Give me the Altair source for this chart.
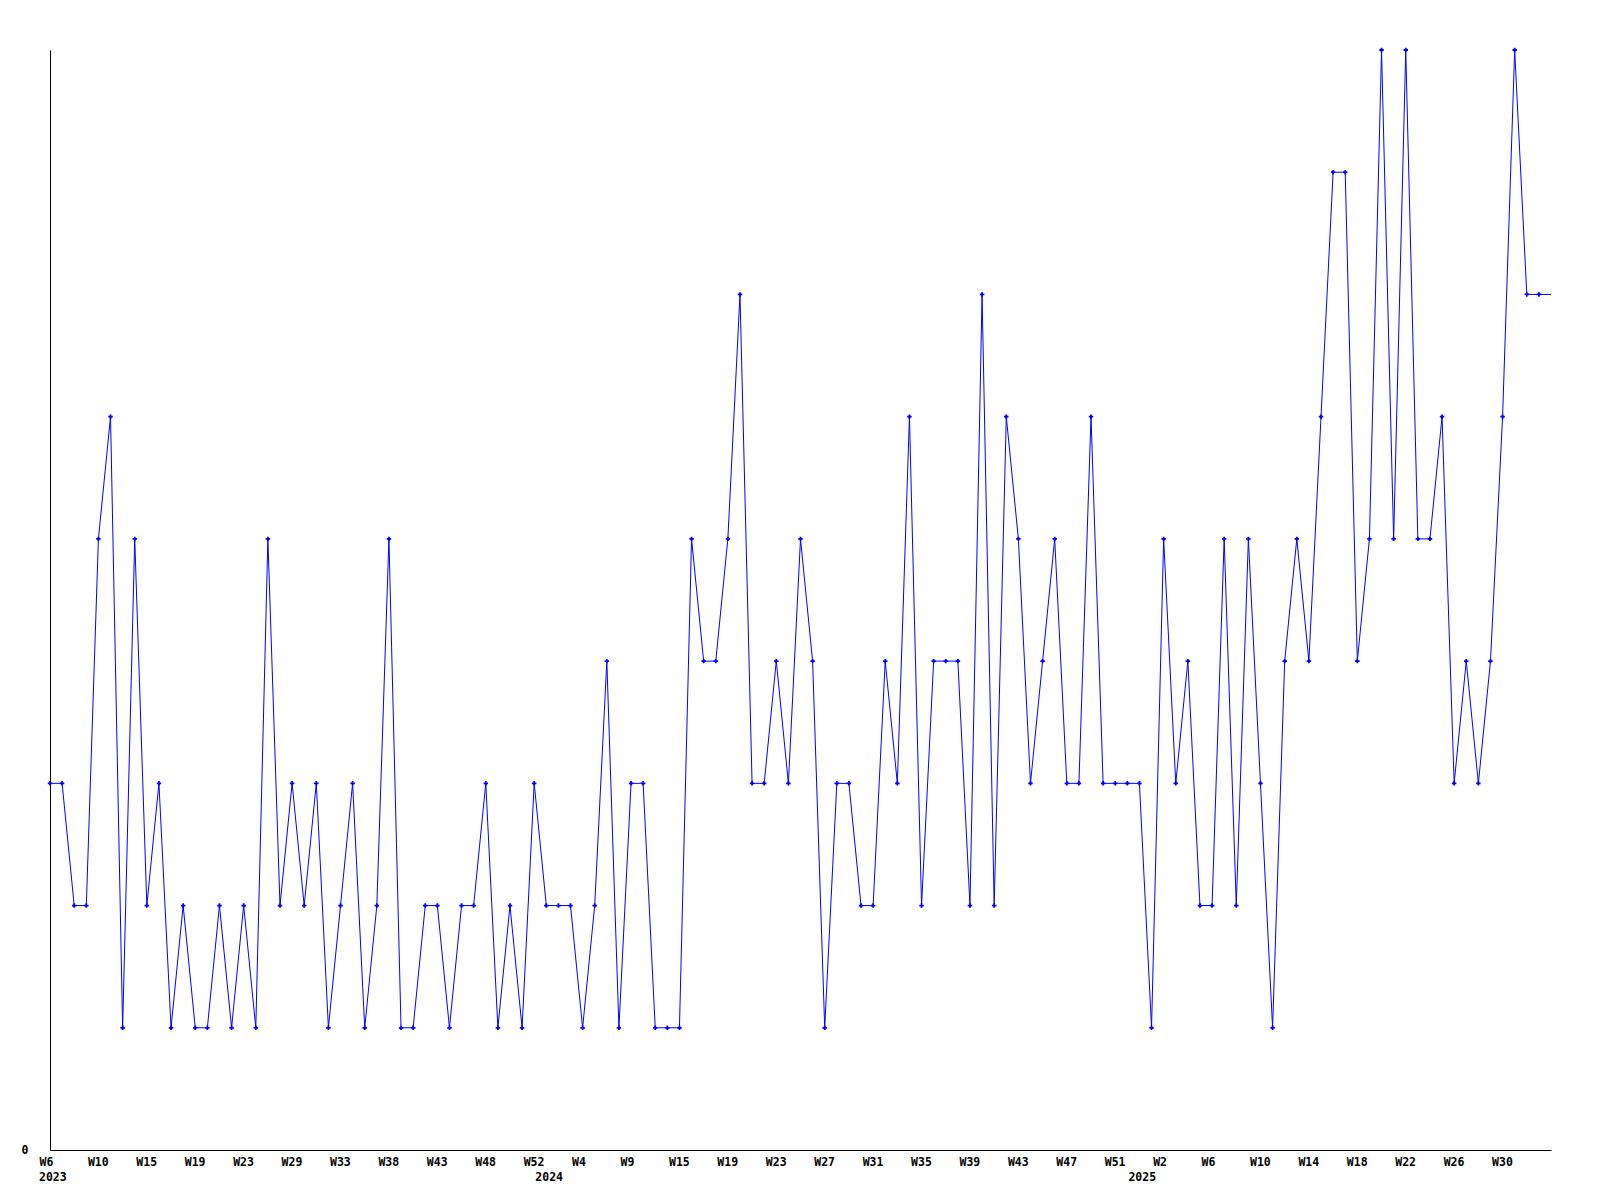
import altair as alt
import pandas as pd

# Weekly values, 2023 W6 .. 2025 W33 (one per plotted point)
values = [3, 3, 2, 2, 5, 6, 1, 5, 2, 3,
          1, 2, 1, 1, 2, 1, 2, 1, 5, 2,
          3, 2, 3, 1, 2, 3, 1, 2, 5, 1,
          1, 2, 2, 1, 2, 2, 3, 1, 2, 1,
          3, 2, 2, 2, 1, 2, 4, 1, 3, 3,
          1, 1, 1, 5, 4, 4, 5, 7, 3, 3,
          4, 3, 5, 4, 1, 3, 3, 2, 2, 4,
          3, 6, 2, 4, 4, 4, 2, 7, 2, 6,
          5, 3, 4, 5, 3, 3, 6, 3, 3, 3,
          3, 1, 5, 3, 4, 2, 2, 5, 2, 5,
          3, 1, 4, 5, 4, 6, 8, 8, 4, 5,
          9, 5, 9, 5, 5, 6, 3, 4, 3, 4,
          6, 9, 7, 7]
# current (incomplete) period, drawn as line only
current_value = 7

tick_labels = ["W6", "W10", "W15", "W19", "W23", "W29", "W33", "W38", "W43", "W48", "W52",
               "W4", "W9", "W15", "W19", "W23", "W27", "W31", "W35", "W39", "W43", "W47", "W51",
               "W2", "W6", "W10", "W14", "W18", "W22", "W26", "W30"]
year_labels = ["2023", "2024", "2025"]
year_index = [0, 41, 90]

n = len(values)
df = pd.DataFrame({
    "i": list(range(n + 1)),
    "v": values + [current_value],
    "marker": [True] * n + [False],
})
years = pd.DataFrame({"i": year_index, "label": year_labels})

W, H = 1501, 1100
FONT = "DejaVu Sans Mono"
label_js = "[" + ",".join("'" + t + "'" for t in tick_labels) + "]"

xscale = alt.Scale(domain=[0, n], nice=False, zero=False)
yscale = alt.Scale(domain=[0, 9], nice=False, zero=True)

base = alt.Chart(df)

line = base.mark_line(color="#0000ff", strokeWidth=1).encode(
    x=alt.X("i:Q", scale=xscale, title=None,
            axis=alt.Axis(values=list(range(0, 4 * len(tick_labels), 4)),
                          labelExpr=label_js + "[round(datum.value/4)]",
                          ticks=False, grid=False, domainColor="black", domainWidth=1,
                          labelFont=FONT, labelFontWeight="bold", labelFontSize=11.5,
                          labelColor="black", labelAlign="left", labelOffset=-11,
                          labelPadding=6, labelFlush=False, labelOverlap=False)),
    y=alt.Y("v:Q", scale=yscale, title=None,
            axis=alt.Axis(values=[0], labelExpr="format(datum.value, 'd')",
                          ticks=False, grid=False, domainColor="black",
                          domainWidth=1, labelFont=FONT, labelFontWeight="bold",
                          labelFontSize=11.5, labelColor="black", labelPadding=22)),
)

points = base.transform_filter("datum.marker").mark_point(
    shape="cross", size=20, filled=True, color="#0000ff", opacity=1
).encode(x=alt.X("i:Q", scale=xscale), y=alt.Y("v:Q", scale=yscale))

year_text = alt.Chart(years).mark_text(
    font=FONT, fontWeight="bold", fontSize=11.5, color="black",
    align="left", baseline="middle", dx=-11
).encode(x=alt.X("i:Q", scale=xscale), y=alt.value(H + 28), text="label:N")

chart = (line + points + year_text).properties(
    width=W, height=H,
    autosize=alt.AutoSizeParams(type="none"),
    padding={"left": 42, "top": 42, "right": 30, "bottom": 40},
    background="white",
).configure_view(stroke=None)

chart.save("out.html", embed_options={"renderer": "svg", "actions": False})
